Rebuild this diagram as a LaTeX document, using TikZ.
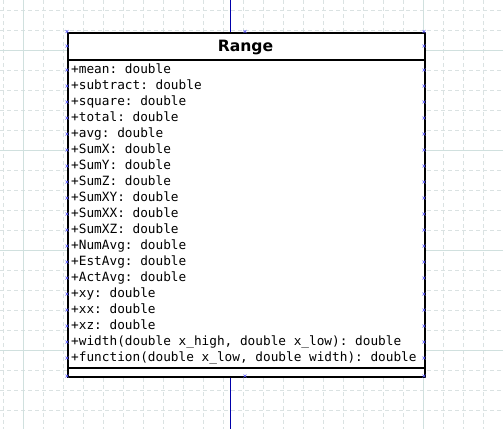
\documentclass[tikz,border=0pt]{standalone}
\usepackage{fontspec}
\setmainfont{DejaVu Sans}
\setmonofont{DejaVu Sans Mono}
\begin{document}
\begin{tikzpicture}[x=1pt,y=-1pt,
  minorgrid/.style={draw={rgb,255:red,218;green,226;blue,226},line width=0.8pt,dash pattern=on 4pt off 3pt},
  majorgrid/.style={draw={rgb,255:red,208;green,224;blue,222},line width=0.9pt},
  classbox/.style={draw=black,line width=2pt,fill=white},
  sepline/.style={draw=black,line width=2pt},
  attrtext/.style={anchor=base west,inner sep=0pt,font=\ttfamily\fontsize{12.75}{16}\selectfont},
  titletext/.style={anchor=base,inner sep=0pt,font=\bfseries\fontsize{15.6}{18}\selectfont},
  assoc/.style={draw={rgb,255:red,0;green,0;blue,170},line width=1pt},
  cpoint/.style={draw={rgb,255:red,90;green,90;blue,255},line width=0.6pt}]
\useasboundingbox (0,0) rectangle (503,429);
\fill[white] (0,0) rectangle (503,429);
% background grid
\foreach \gx in {3.3,23.3,...,503} \draw[minorgrid] (\gx,0) -- (\gx,429);
\foreach \gy in {10,30,...,429} \draw[minorgrid] (0,\gy) -- (503,\gy);
\foreach \gx in {23.3,423.3} \draw[majorgrid] (\gx,0) -- (\gx,429);
\foreach \gy in {50,150,250,350} \draw[majorgrid] (0,\gy) -- (503,\gy);
% association line passing through the class
\coordinate (topend) at (230,0);
\coordinate (botend) at (230,429);
% class outline
\node[classbox,minimum width=357pt,minimum height=344pt,anchor=north west,inner sep=0pt] (cls) at (67,31.5) {};
\draw[assoc] (topend) -- (cls.north -| topend);
\draw[assoc] (cls.south -| botend) -- (botend);
\coordinate (sepA) at (67,60);
\coordinate (sepB) at (67,368);
\draw[sepline] (sepA) -- (sepA -| cls.east);
\draw[sepline] (sepB) -- (sepB -| cls.east);
\node[titletext] (title) at (245.5,51.7) {Range};
% attributes
\foreach [count=\i] \t in {%
  {+mean: double},{+subtract: double},{+square: double},{+total: double},
  {+avg: double},{+SumX: double},{+SumY: double},{+SumZ: double},
  {+SumXY: double},{+SumXX: double},{+SumXZ: double},{+NumAvg: double},
  {+EstAvg: double},{+ActAvg: double},{+xy: double},{+xx: double},
  {+xz: double},{+width(double x\_high, double x\_low): double},
  {+function(double x\_low, double width): double}}
  \node[attrtext] (attr\i) at (71,{73.5+16*(\i-1)}) {\t};
% connection points
\foreach \cy in {31.5,46,70,86,...,358,376}{
  \foreach \cx in {67,424}
    \draw[cpoint] (\cx-1.5,\cy-1.5) -- (\cx+1.5,\cy+1.5) (\cx-1.5,\cy+1.5) -- (\cx+1.5,\cy-1.5);
}
\foreach \cy in {31.5,376}
  \draw[cpoint] (245-1.5,\cy-1.5) -- (245+1.5,\cy+1.5) (245-1.5,\cy+1.5) -- (245+1.5,\cy-1.5);
\end{tikzpicture}
\end{document}
